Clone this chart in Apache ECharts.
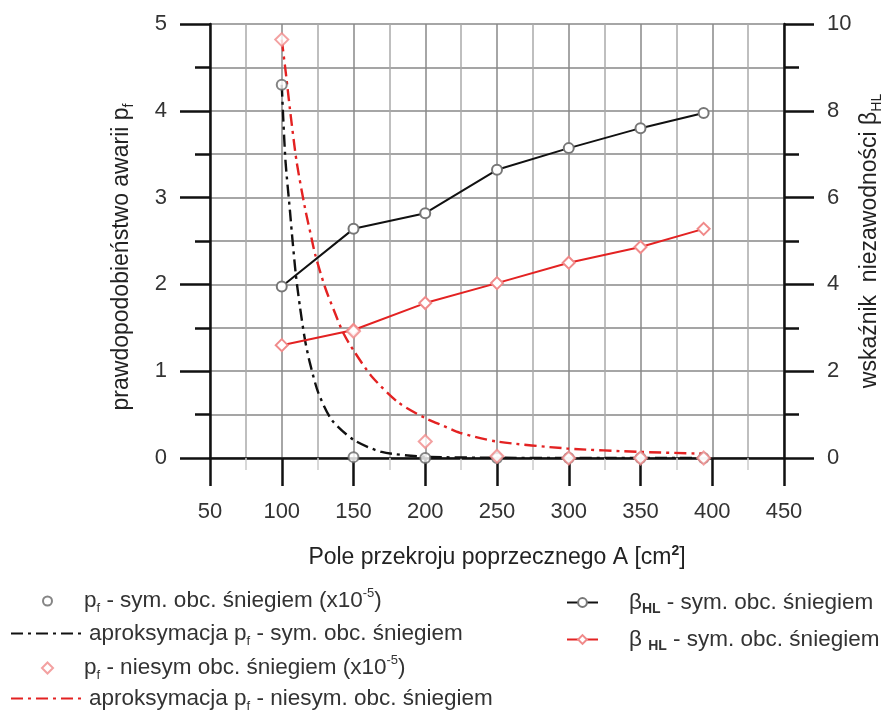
<!DOCTYPE html>
<html>
<meta charset="UTF-8">
<title>pf-beta</title>
<style type="text/css">
    html,
    body {
        margin: 0px;
        background: #fff;
    }

    #chart {
        width: 883px;
        height: 713px;
    }
</style>
<script src="https://cdn.jsdelivr.net/npm/echarts@6/dist/echarts.min.js"></script>

<body>
    <div id="chart"></div>
    <script>
        // measured points
        const areaA = [100, 150, 200, 250, 300, 350, 394];
        const pfSym = [4.30, 0.01, 0, 0, 0, 0, 0];
        const pfNiesym = [4.82, 1.46, 0.19, 0.02, 0, 0, 0];
        const betaSym = [3.95, 5.28, 5.64, 6.64, 7.14, 7.60, 7.95];
        const betaNiesym = [2.60, 2.95, 3.57, 4.03, 4.50, 4.86, 5.28];

        // approximation curves
        const apSymA = [100, 101.1, 102.7, 105.7, 107, 109.7, 112.7, 116.2, 119.7, 125.5, 134.8, 150, 169.6, 200, 250, 300, 394];
        const apSymPf = [4.30, 3.89, 3.40, 2.85, 2.60, 2.13, 1.74, 1.36, 1.09, 0.75, 0.44, 0.21, 0.07, 0.015, 0.003, 0, 0];
        const apNieA = [100, 103.1, 105.7, 110.3, 116.2, 120.8, 123.2, 130.1, 137.1, 142.9, 150, 162.7, 181.2, 200, 212.7, 224.2, 249.8, 298.6, 349.8, 394];
        const apNiePf = [4.82, 4.40, 4.02, 3.42, 2.88, 2.53, 2.35, 1.97, 1.67, 1.44, 1.24, 0.94, 0.64, 0.46, 0.37, 0.29, 0.19, 0.11, 0.07, 0.05];

        const pairs = (xs, ys) => xs.map((x, i) => [x, ys[i]]);

        const font = 'Liberation Sans';
        const txt = '#333';
        const rich = {
            t: { fontSize: 22.5, color: txt, fontFamily: font, lineHeight: 28 },
            sub: { fontSize: 13, color: txt, fontFamily: font, verticalAlign: 'bottom', lineHeight: 15 },
            subb: { fontSize: 14, color: txt, fontFamily: font, fontWeight: 'bold', verticalAlign: 'bottom', lineHeight: 15 },
            sup: { fontSize: 13, color: txt, fontFamily: font, verticalAlign: 'top', lineHeight: 14 }
        };

        const legendText = {
            pfSym: '{t|p}{sub|f}{t| - sym. obc. śniegiem (x10}{sup|-5}{t|)}',
            apSym: '{t|aproksymacja p}{sub|f}{t| - sym. obc. śniegiem}',
            pfNie: '{t|p}{sub|f}{t| - niesym obc. śniegiem (x10}{sup|-5}{t|)}',
            apNie: '{t|aproksymacja p}{sub|f}{t| - niesym. obc. śniegiem}',
            betaSym: '{t|β}{subb|HL}{t| - sym. obc. śniegiem}',
            betaNie: '{t|β }{subb|HL}{t| - sym. obc. śniegiem}'
        };

        function row(name, left, centerY, w, h, pad, hideSymbol) {
            const lg = {
                data: [name],
                left: left,
                top: centerY - 14,
                padding: 0,
                itemWidth: w,
                itemHeight: h,
                selectedMode: false,
                formatter: n => legendText[n],
                textStyle: { rich: rich, padding: [0, 0, 0, pad || 0] }
            };
            if (hideSymbol) lg.itemStyle = { opacity: 0 };
            return lg;
        }

        const nameRich = {
            t: { fontSize: 23, color: '#222', fontFamily: font, lineHeight: 28 },
            sub: { fontSize: 14, color: '#222', fontFamily: font, verticalAlign: 'bottom', lineHeight: 16 },
            sup: { fontSize: 14, color: '#222', fontFamily: font, fontWeight: 'bold', verticalAlign: 'top', lineHeight: 15 }
        };
        const rightRich = {
            t: { fontSize: 23, color: '#222', fontFamily: font, lineHeight: 28 },
            sub: { fontSize: 14, color: '#222', fontFamily: font, verticalAlign: 'bottom', lineHeight: 24 }
        };

        const chart = echarts.init(document.getElementById('chart'));

        const option = {
            backgroundColor: '#fff',
            animation: false,
            textStyle: { fontFamily: font },
            grid: { left: 210, right: 99, top: 24, bottom: 255, outerBoundsMode: 'none' },
            legend: [
                row('pfSym', 42, 601, 9, 9, 27),
                row('apSym', 10, 636, 73, 14, 0, true),
                row('pfNie', 41, 668, 11, 11, 26),
                row('apNie', 10, 701, 73, 14, 0, true),
                row('betaSym', 566, 605, 31, 11, 26),
                row('betaNie', 566, 642, 31, 11, 26)
            ],
            xAxis: {
                type: 'value',
                min: 50,
                max: 450,
                interval: 50,
                name: '{t|Pole przekroju poprzecznego A [cm}{sup|2}{t|]}',
                nameLocation: 'middle',
                nameGap: 86,
                nameMoveOverlap: false,
                nameTextStyle: { rich: nameRich },
                axisLine: { lineStyle: { color: '#111', width: 2.5 } },
                axisTick: { length: 28, lineStyle: { color: '#111', width: 2.5 } },
                minorTick: { show: true, splitNumber: 2, length: 12, lineStyle: { color: '#ccc', width: 1.5 } },
                axisLabel: { margin: 43, fontSize: 22, color: txt, fontFamily: font },
                splitLine: { lineStyle: { color: '#888', width: 1.5 } },
                minorSplitLine: { show: true, lineStyle: { color: '#aaa', width: 1.5 } }
            },
            yAxis: [{
                type: 'value',
                min: 0,
                max: 5,
                interval: 1,
                name: '{t|prawdopodobieństwo awarii p}{sub|f}',
                nameLocation: 'middle',
                nameGap: 74,
                nameMoveOverlap: false,
                nameTextStyle: { padding: [0, 32, 0, 0], rich: nameRich },
                axisLine: { show: true, lineStyle: { color: '#111', width: 2.5 } },
                axisTick: { length: 30, lineStyle: { color: '#111', width: 2.5 } },
                minorTick: { show: true, splitNumber: 2, length: 15, lineStyle: { color: '#111', width: 2.5 } },
                axisLabel: { margin: 43, fontSize: 22, color: txt, fontFamily: font },
                splitLine: { lineStyle: { color: '#888', width: 1.5 } },
                minorSplitLine: { show: true, lineStyle: { color: '#888', width: 1.5 } }
            }, {
                type: 'value',
                position: 'right',
                min: 0,
                max: 10,
                interval: 2,
                name: '{t|wskaźnik  niezawodności β}{sub|HL}',
                nameLocation: 'middle',
                nameGap: 72,
                nameMoveOverlap: false,
                nameTextStyle: { rich: rightRich },
                axisLine: { show: true, lineStyle: { color: '#111', width: 2.5 } },
                axisTick: { length: 30, lineStyle: { color: '#111', width: 2.5 } },
                minorTick: { show: true, splitNumber: 2, length: 15, lineStyle: { color: '#111', width: 2.5 } },
                axisLabel: { margin: 43, fontSize: 22, color: txt, fontFamily: font },
                splitLine: { show: false }
            }],
            series: [{
                name: 'apSym',
                type: 'line',
                data: pairs(apSymA, apSymPf),
                smooth: 0.25,
                symbol: 'none',
                z: 3,
                itemStyle: { color: '#111' },
                lineStyle: { color: '#111', width: 2.4, type: [12, 5, 3, 5] }
            }, {
                name: 'apNie',
                type: 'line',
                data: pairs(apNieA, apNiePf),
                smooth: 0.25,
                symbol: 'none',
                z: 3,
                itemStyle: { color: '#e32222' },
                lineStyle: { color: '#e32222', width: 2.4, type: [12, 5, 3, 5] }
            }, {
                name: 'betaSym',
                type: 'line',
                yAxisIndex: 1,
                data: pairs(areaA, betaSym),
                symbol: 'emptyCircle',
                symbolSize: 10,
                z: 4,
                itemStyle: { color: '#777', borderWidth: 1.2 },
                lineStyle: { color: '#111', width: 2 }
            }, {
                name: 'betaNie',
                type: 'line',
                yAxisIndex: 1,
                data: pairs(areaA, betaNiesym),
                symbol: 'emptyDiamond',
                symbolSize: 12,
                z: 4,
                itemStyle: { color: '#f08a8a', borderWidth: 1.2 },
                lineStyle: { color: '#e32222', width: 2 }
            }, {
                name: 'pfSym',
                type: 'scatter',
                data: pairs(areaA, pfSym),
                symbol: 'emptyCircle',
                symbolSize: 10,
                z: 5,
                itemStyle: { color: '#666', borderWidth: 1.2 }
            }, {
                name: 'pfNie',
                type: 'scatter',
                data: pairs(areaA, pfNiesym),
                symbol: 'emptyDiamond',
                symbolSize: 13,
                z: 5,
                itemStyle: { color: '#f08a8a', borderWidth: 1.2 }
            }]
        };
        chart.setOption(option);
    </script>
</body>

</html>
